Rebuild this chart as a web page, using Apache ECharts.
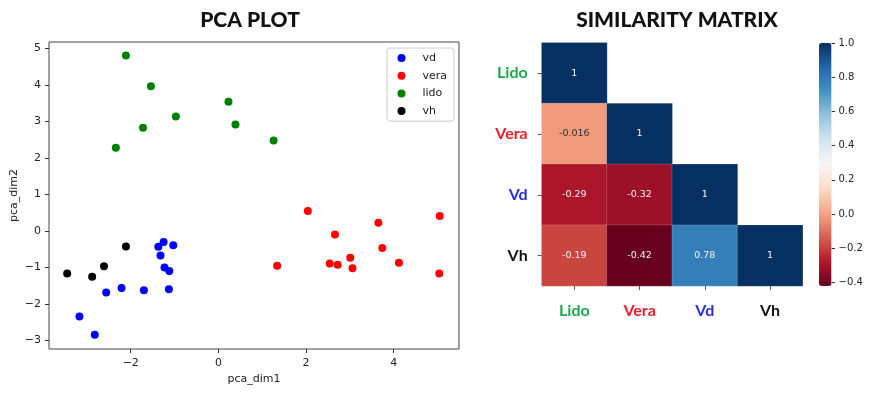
<!DOCTYPE html>
<html>
<head>
<meta charset="utf-8">
<script src="https://cdn.jsdelivr.net/npm/echarts@6/dist/echarts.min.js"></script>
<style>
html,body{margin:0;padding:0;background:#fff;}
#chart{width:874px;height:394px;}
</style>
</head>
<body>
<div id="chart"></div>
<script>
// ---- PCA scatter data ----
const seriesNames = ['vd', 'vera', 'lido', 'vh'];
const seriesColors = ['#0000ff', '#ff0000', '#008000', '#000000'];
const vdPoints = [[-1.25,-0.30],[-1.37,-0.43],[-1.03,-0.39],[-1.32,-0.67],[-1.23,-1.00],[-1.12,-1.09],
  [-1.13,-1.59],[-1.70,-1.62],[-2.21,-1.56],[-2.56,-1.68],[-3.17,-2.34],[-2.82,-2.84]];
const veraPoints = [[2.04,0.55],[1.34,-0.95],[2.66,-0.09],[2.54,-0.89],[2.72,-0.92],[3.01,-0.73],
  [3.06,-1.02],[3.65,0.23],[3.74,-0.46],[4.12,-0.87],[5.05,0.41],[5.04,-1.16]];
const lidoPoints = [[-2.11,4.81],[-1.54,3.97],[-0.97,3.14],[-1.72,2.83],[-2.34,2.28],[0.23,3.54],[0.39,2.92],[1.26,2.48]];
const vhPoints = [[-2.11,-0.42],[-2.61,-0.96],[-2.88,-1.25],[-3.45,-1.16]];
const pcaXTicks = [-2, 0, 2, 4];
const pcaYTicks = [-3, -2, -1, 0, 1, 2, 3, 4, 5];

// ---- Similarity matrix data ----
const matrixLabels = ['Lido', 'Vera', 'Vd', 'Vh'];
const matrixLabelColors = ['#1fa84f', '#ee1c25', '#2b2be0', '#111111'];
const matrixValues = [
  [1],
  [-0.016, 1],
  [-0.29, -0.32, 1],
  [-0.19, -0.42, 0.78, 1]
];
const colorbarTicks = [-0.4, -0.2, 0.0, 0.2, 0.4, 0.6, 0.8, 1.0];
const colorMin = -0.42, colorMax = 1.0;
const rdBu = ['#67001f','#b2182b','#d6604d','#f4a582','#fddbc7','#f7f7f7','#d1e5f0','#92c5de','#4393c3','#2166ac','#053061'];

const minus = s => String(s).replace('-', '\u2212');

const pointSets = [vdPoints, veraPoints, lidoPoints, vhPoints];
const scatterSeries = seriesNames.map((n, i) => ({
  type: 'scatter', name: n, xAxisIndex: 0, yAxisIndex: 0,
  data: pointSets[i], symbolSize: 8,
  itemStyle: { color: seriesColors[i], opacity: 1 }
}));

const heatData = [];
matrixValues.forEach((row, r) => row.forEach((v, c) => {
  const dark = v < -0.1 || v > 0.6;
  heatData.push({ value: [c, r, v], label: { color: dark ? '#f2f2f2' : '#333333' } });
}));

const tickFont = { fontFamily: 'DejaVu Sans', fontSize: 11, color: '#222' };

const chart = echarts.init(document.getElementById('chart'), null, { renderer: 'canvas' });
chart.setOption({
  animation: false,
  backgroundColor: '#ffffff',
  title: [
    { text: 'PCA PLOT', left: 250, top: 10, textAlign: 'center', padding: 0,
      textStyle: { fontFamily: 'Lato', fontWeight: 900, fontSize: 21, color: '#111' } },
    { text: 'SIMILARITY MATRIX', left: 677, top: 10, textAlign: 'center', padding: 0,
      textStyle: { fontFamily: 'Lato', fontWeight: 900, fontSize: 21, color: '#111' } }
  ],
  legend: {
    data: seriesNames, orient: 'vertical', left: 387, top: 48,
    padding: [3, 7, 3, 10.5], itemGap: 3.7, itemWidth: 8, itemHeight: 8, icon: 'circle',
    borderColor: '#cccccc', borderWidth: 1, borderRadius: 3, backgroundColor: '#fff',
    formatter: n => '{t|' + n + '}',
    textStyle: { fontFamily: 'DejaVu Sans', fontSize: 11, color: '#222', lineHeight: 14,
      rich: { t: { fontFamily: 'DejaVu Sans', fontSize: 11, color: '#222', lineHeight: 14, padding: [0, 0, 0, 12] } } }
  },
  grid: [
    { left: 49, top: 42, width: 410, height: 307, show: true, borderColor: '#444', borderWidth: 1, backgroundColor: 'transparent' },
    { left: 541.7, top: 42.7, width: 261, height: 243.3, show: false },
    { left: 819, top: 43, width: 12.5, height: 243, show: false }
  ],
  xAxis: [
    { type: 'value', gridIndex: 0, min: -3.865, max: 5.49,
      axisLine: { show: false, onZero: false }, splitLine: { show: false },
      axisTick: { show: true, length: 4, customValues: pcaXTicks, lineStyle: { color: '#333' } },
      axisLabel: Object.assign({ customValues: pcaXTicks, margin: 9, formatter: v => minus(v) }, tickFont),
      name: 'pca_dim1', nameLocation: 'middle', nameGap: 25,
      nameTextStyle: tickFont },
    { type: 'category', gridIndex: 1, data: matrixLabels, position: 'bottom',
      axisLine: { show: false, onZero: false }, splitLine: { show: false },
      axisTick: { show: true, length: 4, alignWithLabel: true, lineStyle: { color: '#555' } },
      axisLabel: { margin: 17, fontFamily: 'Lato', fontWeight: 'bold', fontSize: 16,
        color: (v, i) => matrixLabelColors[i] } },
    { type: 'value', gridIndex: 2, show: false, min: 0, max: 1 }
  ],
  yAxis: [
    { type: 'value', gridIndex: 0, min: -3.23, max: 5.18,
      axisLine: { show: false, onZero: false }, splitLine: { show: false },
      axisTick: { show: true, length: 4, customValues: pcaYTicks, lineStyle: { color: '#333' } },
      axisLabel: Object.assign({ customValues: pcaYTicks, margin: 8, formatter: v => minus(v) }, tickFont),
      name: 'pca_dim2', nameLocation: 'middle', nameGap: 29, nameRotate: 90,
      nameTextStyle: tickFont },
    { type: 'category', gridIndex: 1, data: matrixLabels, inverse: true,
      axisLine: { show: false, onZero: false }, splitLine: { show: false },
      axisTick: { show: true, length: 4, alignWithLabel: true, lineStyle: { color: '#555' } },
      axisLabel: { margin: 14, fontFamily: 'Lato', fontWeight: 'bold', fontSize: 16,
        color: (v, i) => matrixLabelColors[i] } },
    { type: 'value', gridIndex: 2, position: 'right', min: colorMin, max: colorMax,
      axisLine: { show: false, onZero: false }, splitLine: { show: false },
      axisTick: { show: true, length: 3.5, customValues: colorbarTicks, lineStyle: { color: '#333' } },
      axisLabel: { customValues: colorbarTicks, margin: 7, fontFamily: 'DejaVu Sans', fontSize: 10, color: '#222',
        formatter: v => minus(Number(v).toFixed(1)) } }
  ],
  visualMap: {
    type: 'continuous', seriesIndex: 4, min: colorMin, max: colorMax,
    calculable: false, realtime: false, orient: 'vertical',
    left: 819, top: 43, itemWidth: 12.5, itemHeight: 243, padding: 0,
    text: null, showLabel: false,
    inRange: { color: rdBu }
  },
  series: scatterSeries.concat([
    { type: 'heatmap', xAxisIndex: 1, yAxisIndex: 1, data: heatData,
      itemStyle: { borderColor: 'rgba(255,255,255,0.35)', borderWidth: 0.5 },
      label: { show: true, fontFamily: 'DejaVu Sans', fontSize: 9.5, formatter: p => String(p.value[2]) },
      emphasis: { disabled: true } }
  ])
});
</script>
</body>
</html>
